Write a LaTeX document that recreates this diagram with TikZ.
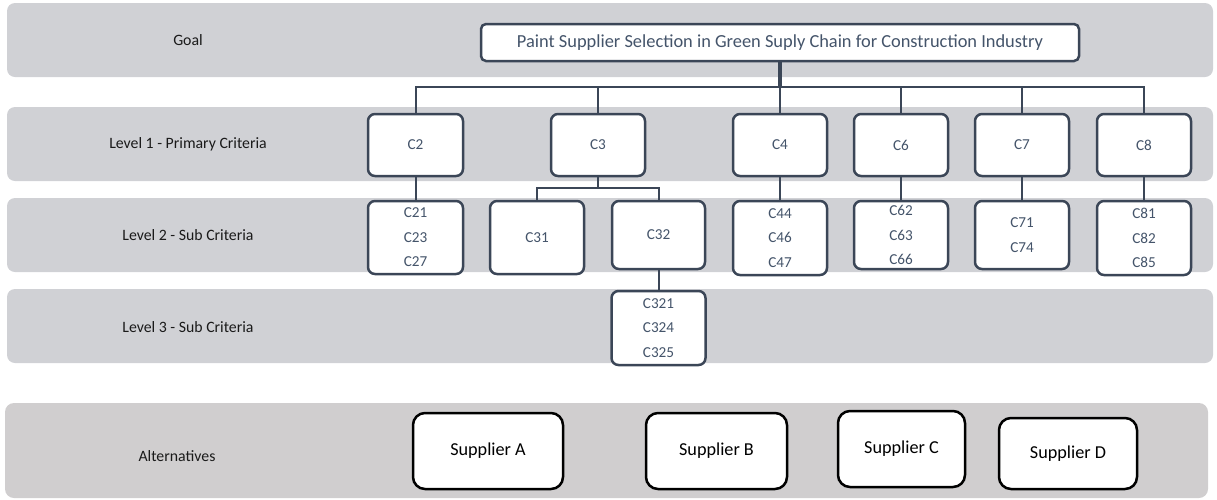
\documentclass[tikz,border=0pt]{standalone}
\usepackage{fontspec}
\setmainfont{Carlito}
\definecolor{bandblue}{HTML}{D0D1D5}
\definecolor{bandgrey}{HTML}{D0CECF}
\definecolor{slate}{HTML}{3B4657}
\definecolor{slatetext}{HTML}{44546A}
\definecolor{labeltext}{HTML}{1A1A1A}
\tikzset{
  band/.style={fill=bandblue, draw=none, rounded corners=8pt},
  altband/.style={fill=bandgrey, draw=none, rounded corners=9pt},
  rowlabel/.style={text=labeltext, font=\fontsize{15.8}{18}\selectfont, inner sep=0pt},
  crit/.style={draw=slate, line width=2.5pt, fill=white, rounded corners=7pt,
    text=slatetext, font=\fontsize{15.2}{24.5}\selectfont, align=center,
    inner sep=0pt, minimum width=94pt},
  goalbox/.style={draw=slate, line width=2.5pt, fill=white, rounded corners=5pt,
    text=slatetext, font=\fontsize{18.4}{20}\selectfont, inner sep=0pt,
    minimum width=598pt, minimum height=37pt},
  supplier/.style={draw=black, line width=2.5pt, fill=white, rounded corners=12pt,
    text=black, font=\fontsize{18.2}{20}\selectfont, inner sep=0pt},
  link/.style={draw=slate, line width=2pt},
  trunk/.style={draw=slate, line width=3.5pt}
}
\begin{document}
\begin{tikzpicture}[x=1pt, y=-1pt]
\useasboundingbox (0,0) rectangle (1217,499);

% row bands
\fill[band] (7,3) rectangle (1213,77);
\fill[band] (7,107) rectangle (1213,181);
\fill[band] (7,198) rectangle (1213,272);
\fill[band] (7,289) rectangle (1213,363);
\fill[altband] (5,403) rectangle (1208,498);

% row labels
\node[rowlabel] (lgoal) at (188,40) {Goal};
\node[rowlabel] (lone) at (188,144) {Level 1 - Primary Criteria};
\node[rowlabel] (ltwo) at (188,235) {Level 2 - Sub Criteria};
\node[rowlabel] (lthree) at (188,327) {Level 3 - Sub Criteria};
\node[rowlabel] (lalt) at (177,456) {Alternatives};

% goal
\node[goalbox] (goal) at (780,42.5) {Paint Supplier Selection in Green Suply Chain for Construction Industry};

% level 1
\node[crit, minimum width=95pt, minimum height=62pt] (c2) at (415.5,145) {C2};
\node[crit, minimum height=62pt] (c3) at (598,145) {C3};
\node[crit, minimum height=62pt] (c4) at (780,145) {C4};
\node[crit, minimum height=62pt] (c6) at (901,145) {C6};
\node[crit, minimum height=62pt] (c7) at (1022,145) {C7};
\node[crit, minimum height=62pt] (c8) at (1144,145) {C8};

% level 2
\node[crit, minimum width=95pt, minimum height=73pt] (c21) at (415.5,237.5) {C21\\C23\\C27};
\node[crit, minimum height=73pt] (c31) at (537,237.5) {C31};
\node[crit, minimum width=93pt, minimum height=68pt] (c32) at (658.5,235) {C32};
\node[crit, minimum height=74pt] (c44) at (780,238) {C44\\C46\\C47};
\node[crit, minimum height=68pt] (c62) at (901,235) {C62\\C63\\C66};
\node[crit, minimum height=68pt] (c71) at (1022,235) {C71\\C74};
\node[crit, minimum height=74pt] (c81) at (1144,238) {C81\\C82\\C85};

% level 3
\node[crit, minimum height=74pt] (c321) at (658.5,328) {C321\\C324\\C325};

% alternatives
\node[supplier, minimum width=150pt, minimum height=76pt] (sa) at (488,451) {Supplier A};
\node[supplier, minimum width=141pt, minimum height=76pt] (sb) at (716.5,451) {Supplier B};
\node[supplier, minimum width=127pt, minimum height=76pt] (sc) at (901.5,449) {Supplier C};
\node[supplier, minimum width=138pt, minimum height=71pt] (sd) at (1068,453.5) {Supplier D};

% connectors
\coordinate (bus) at (780,87);
\coordinate (fork) at (598,188);
\draw[trunk] (goal.south) -- (bus);
\draw[link] (bus) -| (c2.north);
\draw[link] (bus) -| (c3.north);
\draw[link] (bus) -- (c4.north);
\draw[link] (bus) -| (c6.north);
\draw[link] (bus) -| (c7.north);
\draw[link] (bus) -| (c8.north);
\draw[link] (c2.south) -- (c21.north);
\draw[link] (c3.south) -- (fork);
\draw[link] (fork) -| (c31.north);
\draw[link] (fork) -| (c32.north);
\draw[link] (c4.south) -- (c44.north);
\draw[link] (c6.south) -- (c62.north);
\draw[link] (c7.south) -- (c71.north);
\draw[link] (c8.south) -- (c81.north);
\draw[link] (c32.south) -- (c321.north);
\end{tikzpicture}
\end{document}
